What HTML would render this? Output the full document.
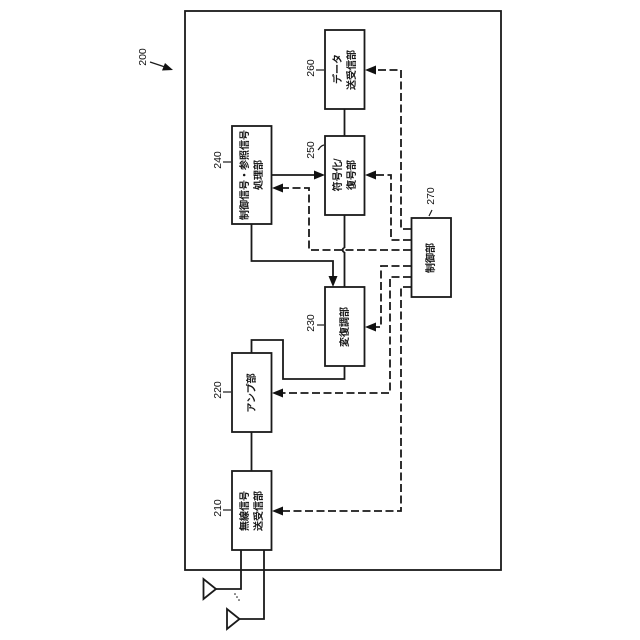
<!DOCTYPE html>
<html>
<head>
<meta charset="utf-8">
<style>
html,body{margin:0;padding:0;background:#fff;}
svg{display:block;}
text{fill:#111;}
.j{font-family:"Liberation Sans","Noto Sans CJK JP",sans-serif;font-size:10px;text-anchor:middle;font-weight:500;stroke:#111;stroke-width:.2;}
.n{font-family:"Liberation Sans",sans-serif;font-size:10.5px;text-anchor:middle;}
</style>
</head>
<body>
<svg width="640" height="640" viewBox="0 0 640 640" xmlns="http://www.w3.org/2000/svg">
<rect width="640" height="640" fill="#fff"/>
<g fill="none" stroke="#1a1a1a" stroke-width="1.8">
  <rect x="185" y="11" width="316" height="559"/>
  <rect x="325" y="30" width="39.500" height="79"/>
  <rect x="232" y="126" width="39.500" height="98"/>
  <rect x="325" y="136" width="39.500" height="79"/>
  <rect x="411.500" y="218" width="39.500" height="79"/>
  <rect x="325" y="287" width="39.500" height="79"/>
  <rect x="232" y="353" width="39.500" height="79"/>
  <rect x="232" y="471" width="39.500" height="79"/>
  <path d="M344.500 109V136"/>
  <path d="M344.500 215V248M344.500 252V287"/>
  <path d="M344.500 248C342 248 342 252 344.500 252"/>
  <path d="M271.500 175H315"/>
  <path d="M251.500 224V261H333V277"/>
  <path d="M344.500 366V379H283V340H251.500V353"/>
  <path d="M251.500 432V471"/>
  <path d="M241 550V589H216"/>
  <path d="M264 550V619H239"/>
  <path d="M203.500 579V599L216 589Z"/>
  <path d="M227 609V629L239.500 619Z"/>
</g>
<g fill="none" stroke="#1a1a1a" stroke-width="1.800" stroke-dasharray="8 3.500">
  <path d="M411 229H401V70H375"/>
  <path d="M411 240H391V175H375"/>
  <path d="M411 250H309V188H282"/>
  <path d="M411 266H381V327H375"/>
  <path d="M411 277H390V393H282"/>
  <path d="M411 287H401V511H282"/>
</g>
<g fill="#111">
  <path d="M365 70L376 65.500V74.500Z"/>
  <path d="M365 175L376 170.500V179.500Z"/>
  <path d="M325 175L314 170.500V179.500Z"/>
  <path d="M272 188L283 183.500V192.500Z"/>
  <path d="M333 287L328.500 276H337.500Z"/>
  <path d="M365 327L376 322.500V331.500Z"/>
  <path d="M272 393L283 388.500V397.500Z"/>
  <path d="M272 511L283 506.500V515.500Z"/>
  <path d="M173 70L162 70.500L165 63Z"/>
</g>
<g fill="none" stroke="#1a1a1a" stroke-width="1.200">
  <path d="M150 62L165 67"/>
  <path d="M316 70H324"/>
  <path d="M318 150C320 148 320 146 324 145"/>
  <path d="M223 162H231"/>
  <path d="M317 325H324"/>
  <path d="M223 392H231"/>
  <path d="M223 510H231"/>
  <path d="M429 216L432 210"/>
</g>
<g fill="#111">
  <circle cx="235" cy="594" r="0.800"/>
  <circle cx="237" cy="597" r="0.800"/>
  <circle cx="239" cy="600" r="0.800"/>
</g>
<g>
  <text class="n" transform="translate(146,57) rotate(-90)">200</text>
  <text class="n" transform="translate(314,68) rotate(-90)">260</text>
  <text class="n" transform="translate(314,150) rotate(-90)">250</text>
  <text class="n" transform="translate(221,160) rotate(-90)">240</text>
  <text class="n" transform="translate(314,323) rotate(-90)">230</text>
  <text class="n" transform="translate(221,390) rotate(-90)">220</text>
  <text class="n" transform="translate(221,508) rotate(-90)">210</text>
  <text class="n" transform="translate(434,196) rotate(-90)">270</text>

  <text class="j" transform="translate(341,69) rotate(-90)">データ</text>
  <text class="j" transform="translate(355,70) rotate(-90)">送受信部</text>
  <text class="j" transform="translate(341,175) rotate(-90)">符号化/</text>
  <text class="j" transform="translate(355,175) rotate(-90)">復号部</text>
  <text class="j" transform="translate(248,175) rotate(-90)">制御信号・参照信号</text>
  <text class="j" transform="translate(262,175) rotate(-90)">処理部</text>
  <text class="j" transform="translate(348,327) rotate(-90)">変復調部</text>
  <text class="j" transform="translate(255,393) rotate(-90)">アンプ部</text>
  <text class="j" transform="translate(248,511) rotate(-90)">無線信号</text>
  <text class="j" transform="translate(262,511) rotate(-90)">送受信部</text>
  <text class="j" transform="translate(434,258) rotate(-90)">制御部</text>
</g>
</svg>
</body>
</html>
